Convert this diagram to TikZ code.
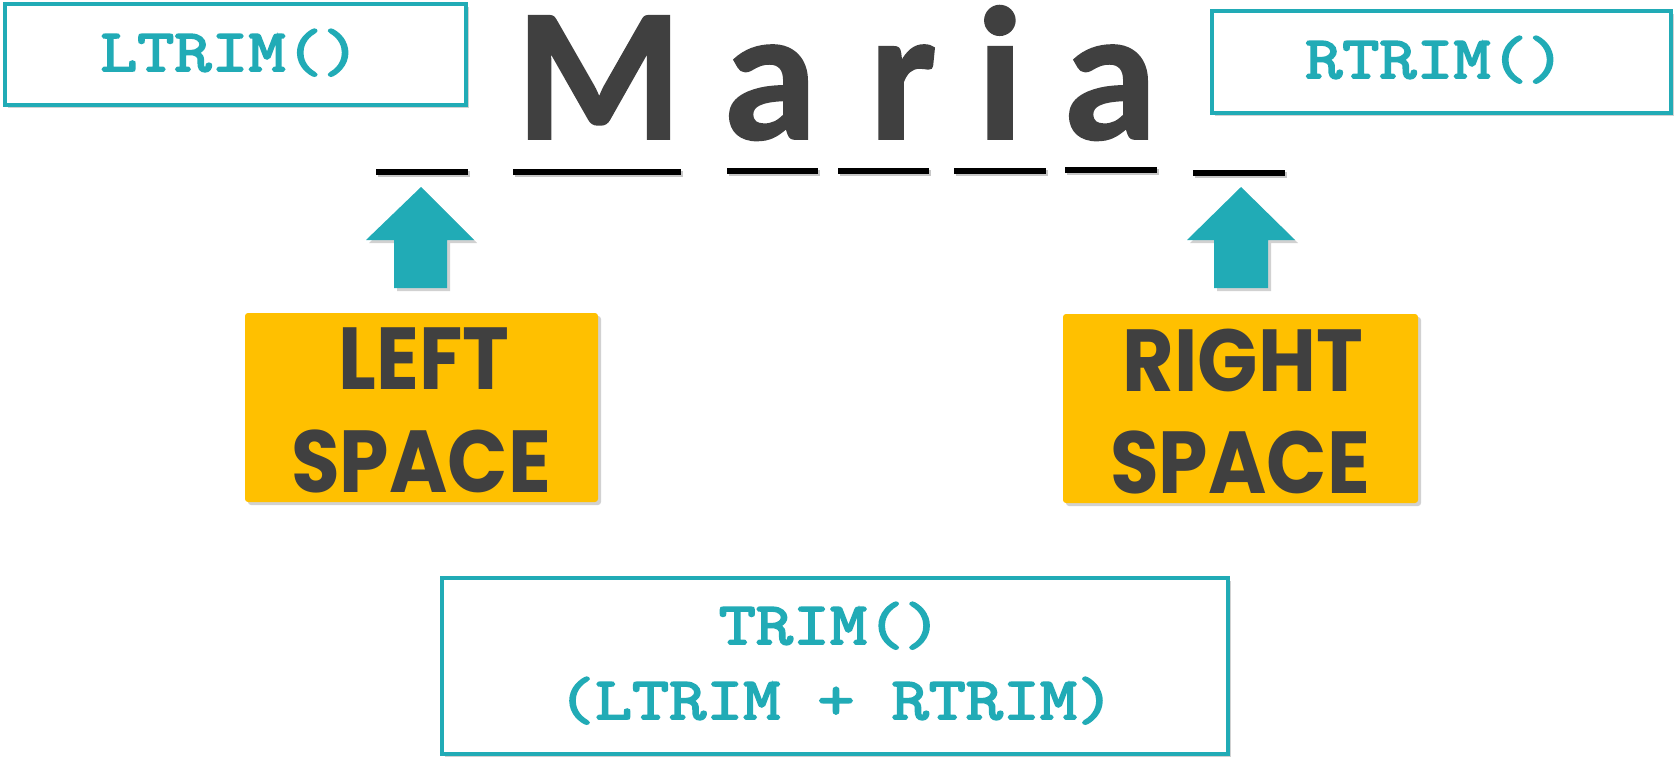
\documentclass[tikz,border=0pt]{standalone}
\usepackage{fontspec}
\usetikzlibrary{shadows}
\newfontfamily\mariafont[FakeBold=1]{Carlito}
\newfontfamily\spacefont[FakeStretch=0.9]{Poppins}
\newfontfamily\codefont[FakeBold=3.2,FakeStretch=1.2]{Latin Modern Mono}
\definecolor{tealc}{RGB}{33,171,182}
\definecolor{goldc}{RGB}{255,192,0}
\definecolor{grayc}{RGB}{64,64,64}
\tikzset{
  softshadow/.style={drop shadow={shadow xshift=3pt, shadow yshift=-3pt, opacity=0.18, fill=black}},
  codebox/.style={draw=tealc, line width=4pt, fill=white, inner sep=0pt, softshadow},
  codetext/.style={text=tealc, font=\codefont\fontsize{60}{60}\selectfont, inner sep=0pt, anchor=base},
  goldbox/.style={fill=goldc, rounded corners=3pt, inner sep=0pt, minimum height=189pt, softshadow},
  spacetext/.style={text=grayc, font=\spacefont\bfseries\fontsize{88}{88}\selectfont, inner sep=0pt, anchor=base},
  letter/.style={text=grayc, font=\mariafont\bfseries\fontsize{190}{190}\selectfont, inner sep=0pt, anchor=base},
  ubar/.style={fill=black, inner sep=0pt, minimum height=6pt, drop shadow={shadow xshift=2pt, shadow yshift=-2pt, opacity=0.22, fill=black}},
  uparrow/.style={fill=tealc, softshadow}
}
\begin{document}
\begin{tikzpicture}[x=1pt,y=-1pt]
\useasboundingbox (0,0) rectangle (1678,758);
% code boxes
\node[codebox, minimum width=461pt, minimum height=101pt] (lbox) at (235.5,54.5) {};
\node[codetext] (ltext) at (230,71) {LTRIM()};
\node[codebox, minimum width=459pt, minimum height=102pt] (rbox) at (1441.5,62) {};
\node[codetext] (rtext) at (1435,78) {RTRIM()};
\node[codebox, minimum width=786pt, minimum height=176pt] (tbox) at (835,666) {};
\node[codetext] (ttext1) at (830,644) {TRIM()};
\node[codetext] (ttext2) at (836,719) {(LTRIM + RTRIM)};
% letters
\node[letter] (m) at (599,139) {M};
\node[letter] (a1) at (770,139) {a};
\node[letter] (r) at (903,139) {r};
\node[letter] (i) at (1000,139) {i};
\node[letter] (a2) at (1110,139) {a};
% underscores
\node[ubar, minimum width=92pt] (u1) at (422,172) {};
\node[ubar, minimum width=168pt] (u2) at (597,172) {};
\node[ubar, minimum width=91pt] (u3) at (772.5,171) {};
\node[ubar, minimum width=91pt] (u4) at (883.5,171) {};
\node[ubar, minimum width=92pt] (u5) at (1000,171) {};
\node[ubar, minimum width=92pt] (u6) at (1111,169.5) {};
\node[ubar, minimum width=92pt] (u7) at (1239,173) {};
% arrows
\path[uparrow] (421,187) -- (474,240) -- (447,240) -- (447,288) -- (394,288) -- (394,240) -- (366,240) -- cycle;
\path[uparrow] (1241,187) -- (1295,240) -- (1268,240) -- (1268,288) -- (1214,288) -- (1214,240) -- (1187,240) -- cycle;
% gold boxes
\node[goldbox, minimum width=353pt] (lspace) at (421.5,407.5) {};
\node[spacetext] (lt1) at (424,389) {LEFT};
\node[spacetext] (lt2) at (421,492) {SPACE};
\node[goldbox, minimum width=355pt] (rspace) at (1240.5,408.5) {};
\node[spacetext] (rt1) at (1243,391) {RIGHT};
\node[spacetext] (rt2) at (1240,493) {SPACE};
\end{tikzpicture}
\end{document}
